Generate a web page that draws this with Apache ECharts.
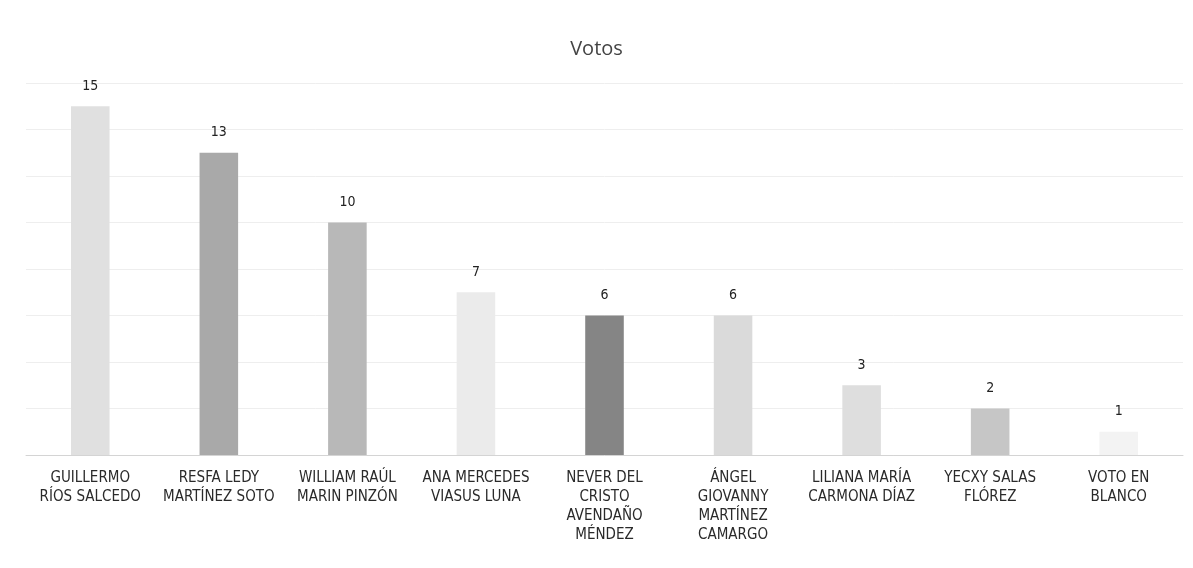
<!DOCTYPE html>
<html>
<head>
<meta charset="utf-8">
<script src="https://cdn.jsdelivr.net/npm/echarts@6/dist/echarts.min.js"></script>
<style>
html,body{margin:0;padding:0;background:#fff;}
#chart{width:1193px;height:568px;}
</style>
</head>
<body>
<div id="chart"></div>
<script>
const categories = [
  "GUILLERMO\nRÍOS SALCEDO",
  "RESFA LEDY\nMARTÍNEZ SOTO",
  "WILLIAM RAÚL\nMARIN PINZÓN",
  "ANA MERCEDES\nVIASUS LUNA",
  "NEVER DEL\nCRISTO\nAVENDAÑO\nMÉNDEZ",
  "ÁNGEL\nGIOVANNY\nMARTÍNEZ\nCAMARGO",
  "LILIANA MARÍA\nCARMONA DÍAZ",
  "YECXY SALAS\nFLÓREZ",
  "VOTO EN\nBLANCO"
];
const votos = [15, 13, 10, 7, 6, 6, 3, 2, 1];
const barColors = ["#e0e0e0", "#a9a9a9", "#b8b8b8", "#ebebeb", "#858585", "#dadada", "#dedede", "#c6c6c6", "#f3f3f3"];

const FONT = "'Liberation Sans Narrow', 'DejaVu Sans Condensed', 'Liberation Sans', sans-serif";
const chart = echarts.init(document.getElementById('chart'), null, {renderer: 'canvas'});
chart.setOption({
  backgroundColor: '#ffffff',
  animation: false,
  title: {
    text: 'Votos',
    left: 'center',
    top: 34,
    textStyle: {fontFamily: "'Open Sans', sans-serif", fontSize: 20, fontWeight: 'normal', color: '#444'}
  },
  grid: {left: 26, right: 10, top: 83, bottom: 113, containLabel: false},
  xAxis: {
    type: 'category',
    data: categories,
    axisLine: {lineStyle: {color: '#d4d4d4'}},
    axisTick: {show: false},
    axisLabel: {interval: 0, fontSize: 15, lineHeight: 19, margin: 14, color: '#2a2a2a', fontFamily: FONT}
  },
  yAxis: {
    type: 'value',
    min: 0, max: 16, interval: 2,
    axisLabel: {show: false},
    axisLine: {show: false},
    axisTick: {show: false},
    splitLine: {lineStyle: {color: '#eeeeee'}}
  },
  series: [{
    type: 'bar',
    data: votos.map((v, i) => ({value: v, itemStyle: {color: barColors[i]}})),
    barWidth: '30%',
    label: {show: true, position: 'top', distance: 13, fontSize: 14, color: '#222', fontFamily: FONT}
  }]
});
</script>
</body>
</html>
